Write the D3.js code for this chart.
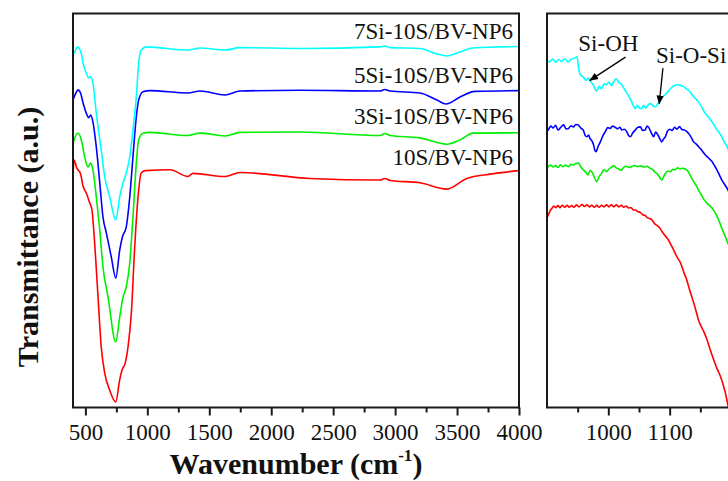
<!DOCTYPE html>
<html><head><meta charset="utf-8">
<script src="https://cdn.jsdelivr.net/npm/d3@7"></script>
<style>
body{margin:0;background:#fff}
svg{display:block}
text{font-family:"Liberation Serif","Times New Roman",serif;fill:#111}
</style>
</head><body>
<svg id="chart" width="728" height="481"></svg>
<script>
// ---------- DATA ----------
const seriesNames = ["10S/BV-NP6", "3Si-10S/BV-NP6", "5Si-10S/BV-NP6", "7Si-10S/BV-NP6"];
const seriesColors = ["#ff0000", "#00ee00", "#0000ff", "#00ffff"];

const leftMajorTicks = [500, 1000, 1500, 2000, 2500, 3000, 3500, 4000];
const leftMinorTicks = [750, 1250, 1750, 2250, 2750, 3250, 3750];
const rightMajorTicks = [1000, 1100];
const rightMinorTicks = [950, 1050, 1150];

// Left panel (full spectrum), [wavenumber, transmittance a.u.]
const redLeft = [[400,57.4],[408,62.7],[430,60.7],[462,59.1],[481,56.1],[507,54.3],[535,51.8],[553,50.0],[575,41.6],[602,27.9],[628,15.2],[656,8.6],[696,4.3],[745,1.3],[777,6.9],[796,9.4],[822,11.2],[844,15.2],[871,23.9],[898,40.6],[925,53.3],[951,59.4],[984,60.0],[1183,60.2],[1328,58.5],[1369,59.3],[1627,58.5],[1748,59.5],[2313,58.0],[2878,57.6],[2918,58.0],[2959,57.5],[3201,56.9],[3417,55.3],[3578,58.0],[3766,59.1],[4000,60.0]];
const greenLeft = [[400,67.0],[440,69.5],[473,67.0],[494,63.5],[521,60.9],[543,61.9],[561,60.2],[588,53.3],[616,44.9],[642,35.5],[683,27.9],[745,16.5],[777,22.8],[804,27.9],[830,30.5],[858,36.5],[884,48.2],[911,61.9],[930,67.8],[965,69.5],[1022,69.7],[1328,68.9],[1425,69.5],[1627,68.8],[1748,69.7],[2232,69.8],[2878,68.9],[2918,69.4],[2959,68.9],[3201,68.3],[3417,66.7],[3524,67.8],[3629,69.5],[4000,69.6]];
const blueLeft = [[400,77.9],[424,79.7],[440,80.5],[461,79.7],[481,77.2],[507,74.6],[527,73.4],[543,74.1],[561,72.3],[588,66.0],[616,56.9],[642,48.2],[669,44.2],[709,38.1],[745,32.7],[777,39.8],[798,43.1],[830,45.7],[858,53.3],[884,63.5],[911,73.6],[930,77.9],[965,80.0],[1022,80.3],[1328,79.7],[1425,80.2],[1627,79.2],[1748,80.2],[2232,80.4],[2878,80.2],[2918,80.6],[2959,80.2],[3201,79.7],[3338,77.9],[3411,76.9],[3524,78.7],[3645,80.1],[4000,80.3]];
const cyanLeft = [[400,89.8],[408,89.8],[435,91.4],[467,89.8],[481,87.3],[507,84.8],[527,83.5],[543,83.8],[561,82.2],[588,74.6],[628,65.2],[656,58.4],[696,53.3],[745,47.5],[777,53.3],[804,56.9],[830,59.4],[858,63.5],[884,70.3],[911,78.7],[930,87.3],[951,90.6],[992,91.4],[1328,90.6],[1425,91.1],[1627,90.6],[1748,91.2],[2232,91.0],[2878,91.4],[2918,91.6],[2959,91.2],[3201,91.0],[3338,89.6],[3419,89.1],[3524,90.1],[3621,91.1],[3847,91.4],[4000,91.5]];

// Right panel (900-1200 cm-1 enlargement)
const redRight = [[900,48.0],[902,48.7],[905,49.8],[908,50.4],[911,51.0],[914,50.6],[918,51.1],[921,50.6],[925,51.2],[929,50.7],[933,51.2],[936,50.7],[940,51.1],[944,50.7],[948,51.3],[952,50.8],[957,51.4],[961,50.9],[965,51.3],[969,50.8],[973,51.2],[977,50.7],[981,51.2],[985,50.7],[989,51.2],[993,50.8],[997,51.3],[1001,50.8],[1005,51.3],[1009,50.8],[1013,51.3],[1017,50.8],[1021,51.2],[1025,50.7],[1029,51.0],[1033,50.5],[1037,50.6],[1041,50.0],[1044,50.0],[1048,49.6],[1052,49.4],[1056,48.8],[1060,48.6],[1064,48.0],[1068,47.8],[1071,47.5],[1075,46.6],[1080,46.0],[1084,45.4],[1088,44.4],[1092,43.6],[1095,43.0],[1098,42.4],[1102,41.2],[1106,40.0],[1109,39.0],[1113,37.8],[1117,36.8],[1120,35.6],[1124,33.8],[1128,32.2],[1132,30.0],[1136,28.0],[1140,26.0],[1144,23.8],[1147,22.1],[1151,20.6],[1156,19.0],[1161,17.0],[1166,14.6],[1172,11.9],[1177,9.8],[1183,7.7],[1187,5.8],[1191,3.5],[1195,0.5],[1200,-2.5]];
const greenRight = [[900,60.6],[902,61.0],[906,61.4],[910,60.9],[914,61.3],[918,60.8],[922,61.5],[926,61.0],[930,61.4],[935,61.0],[939,61.6],[943,61.4],[947,61.8],[951,61.9],[955,61.0],[959,60.2],[963,59.6],[967,58.9],[970,60.0],[973,59.7],[977,58.4],[981,57.2],[985,58.5],[989,59.3],[993,60.2],[997,59.8],[1001,60.4],[1005,60.9],[1009,61.2],[1013,60.7],[1017,60.4],[1021,60.1],[1025,60.8],[1029,61.1],[1034,60.8],[1038,61.0],[1043,61.3],[1048,61.0],[1053,61.2],[1058,60.9],[1063,61.1],[1068,60.6],[1072,60.3],[1076,59.6],[1079,59.3],[1083,58.5],[1087,57.6],[1090,58.4],[1093,59.3],[1097,59.9],[1101,59.7],[1105,60.3],[1109,60.2],[1113,60.7],[1117,60.4],[1120,60.6],[1124,60.5],[1128,60.2],[1132,59.3],[1136,58.0],[1140,57.0],[1144,56.0],[1147,55.1],[1151,54.0],[1155,52.9],[1158,52.3],[1162,51.5],[1166,51.0],[1169,50.5],[1173,49.6],[1177,48.5],[1181,47.0],[1185,45.4],[1190,43.5],[1195,41.6],[1200,39.8]];
const blueRight = [[900,70.0],[902,70.3],[906,71.3],[910,70.8],[914,71.5],[918,70.3],[922,70.9],[927,71.6],[931,70.6],[935,70.7],[939,71.4],[943,71.1],[947,71.7],[951,71.6],[955,70.8],[959,70.3],[962,69.0],[965,68.6],[968,69.0],[970,68.2],[973,67.6],[976,66.5],[978,65.2],[980,64.8],[983,66.0],[987,67.3],[991,68.8],[995,69.9],[999,70.9],[1003,70.7],[1007,71.3],[1011,71.0],[1015,70.6],[1019,71.0],[1022,70.3],[1026,70.5],[1030,69.9],[1033,68.9],[1036,68.6],[1040,69.6],[1044,70.3],[1048,71.0],[1052,71.1],[1056,70.2],[1060,70.3],[1063,71.3],[1066,70.9],[1070,69.6],[1074,68.6],[1077,69.8],[1079,69.5],[1083,68.4],[1087,67.3],[1090,68.0],[1093,68.6],[1096,69.9],[1100,70.5],[1104,70.2],[1108,71.0],[1112,70.5],[1116,71.2],[1120,70.4],[1124,70.3],[1128,69.9],[1132,69.2],[1136,68.2],[1139,67.3],[1143,66.8],[1147,66.1],[1151,65.4],[1155,64.6],[1158,64.0],[1162,63.4],[1166,62.8],[1169,62.3],[1173,61.3],[1177,60.2],[1181,58.9],[1185,57.6],[1190,56.4],[1195,55.1],[1200,53.3]];
const cyanRight = [[900,88.0],[904,87.6],[909,88.3],[914,87.5],[919,88.2],[924,87.7],[929,88.4],[934,87.6],[940,88.3],[946,88.6],[949,88.9],[952,85.5],[955,84.2],[959,83.8],[963,82.9],[967,83.5],[971,82.6],[975,81.8],[978,80.9],[981,80.2],[985,81.4],[989,80.8],[993,82.0],[997,81.8],[1001,82.5],[1005,81.6],[1009,82.6],[1013,83.3],[1017,82.4],[1021,82.0],[1025,81.0],[1029,80.0],[1033,79.0],[1037,77.8],[1041,76.4],[1044,75.7],[1047,76.6],[1050,76.0],[1054,75.7],[1057,76.5],[1061,75.9],[1065,76.7],[1069,77.0],[1073,76.4],[1077,76.2],[1080,76.8],[1084,77.6],[1088,78.6],[1092,79.2],[1096,79.8],[1100,80.6],[1104,81.2],[1108,81.6],[1112,81.8],[1116,81.7],[1120,81.5],[1124,81.2],[1128,80.7],[1132,80.2],[1136,79.4],[1140,78.6],[1144,78.0],[1148,77.2],[1152,76.2],[1156,75.0],[1160,74.2],[1164,73.4],[1168,72.6],[1172,71.7],[1176,70.6],[1180,69.8],[1184,68.8],[1188,67.6],[1192,66.5],[1196,65.3],[1200,64.2]];

const leftSeries = [redLeft, greenLeft, blueLeft, cyanLeft];
const rightSeries = [redRight, greenRight, blueRight, cyanRight];

// Annotations: [label, text wn, text value, arrow tail wn, tail value, arrow tip wn, tip value]
const annotations = [
  ["Si-OH", 1000, 90.4, 1028, 88.8, 970, 82.9],
  ["Si-O-Si", 1135, 87.2, 1089, 86.0, 1083, 77.0]
];

// ---------- LAYOUT ----------
const svg = d3.select("#chart");
const plotTop = 13.5, plotBottom = 407.5;
const y = d3.scaleLinear().domain([0, 100]).range([407, 13]);
const xL = d3.scaleLinear().domain([400, 4000]).range([73, 519]);
const xR = d3.scaleLinear().domain([900, 1200]).range([547, 731]);
const axisColor = "#1a1a1a";

const defs = svg.append("defs");
defs.append("clipPath").attr("id", "clipL").append("rect")
  .attr("x", 73).attr("y", plotTop).attr("width", 446).attr("height", plotBottom - plotTop);
defs.append("clipPath").attr("id", "clipR").append("rect")
  .attr("x", 547).attr("y", plotTop).attr("width", 184).attr("height", plotBottom - plotTop);
defs.append("marker").attr("id", "arrow").attr("viewBox", "0 0 10 10")
  .attr("refX", 9).attr("refY", 5).attr("markerWidth", 9).attr("markerHeight", 9)
  .attr("markerUnits", "userSpaceOnUse").attr("orient", "auto")
  .append("path").attr("d", "M0,1 L10,5 L0,9 Z").attr("fill", "#000");

function drawPanel(x, series, clipId, majors, minors, fullFrame) {
  const g = svg.append("g");
  const line = d3.line().x(d => x(d[0])).y(d => y(d[1])).curve(d3.curveMonotoneX);
  g.append("g").attr("clip-path", `url(#${clipId})`)
    .selectAll("path").data(series).join("path")
    .attr("d", line).attr("fill", "none")
    .attr("stroke", (d, i) => seriesColors[i]).attr("stroke-width", 1.6)
    .attr("stroke-linejoin", "round");

  const axisMaj = d3.axisBottom(x).tickValues(majors).tickSize(8).tickPadding(8)
    .tickFormat(d3.format("d"));
  const ga = g.append("g").attr("transform", `translate(0,${plotBottom})`).call(axisMaj);
  ga.select(".domain").remove();
  ga.selectAll("line").attr("stroke", axisColor).attr("stroke-width", 2);
  ga.selectAll("text").attr("font-size", 23).attr("fill", "#111")
    .style("font-family", '"Liberation Serif","Times New Roman",serif');
  const gm = g.append("g").attr("transform", `translate(0,${plotBottom})`)
    .call(d3.axisBottom(x).tickValues(minors).tickSize(5).tickFormat(""));
  gm.select(".domain").remove();
  gm.selectAll("line").attr("stroke", axisColor).attr("stroke-width", 2);

  const [x0, x1] = x.range();
  g.append("line").attr("x1", x0).attr("x2", x0).attr("y1", plotTop).attr("y2", plotBottom)
    .attr("stroke", axisColor).attr("stroke-width", 2);
  g.append("line").attr("x1", x0 - 1).attr("x2", x1).attr("y1", plotBottom).attr("y2", plotBottom)
    .attr("stroke", axisColor).attr("stroke-width", 2);
  g.append("line").attr("x1", x0 - 1).attr("x2", x1).attr("y1", plotTop).attr("y2", plotTop)
    .attr("stroke", axisColor).attr("stroke-width", 2);
  if (fullFrame) {
    g.append("line").attr("x1", x1).attr("x2", x1).attr("y1", plotTop - 1).attr("y2", plotBottom + 1)
      .attr("stroke", axisColor).attr("stroke-width", 2);
  }
  return g;
}

drawPanel(xL, leftSeries, "clipL", leftMajorTicks, leftMinorTicks, true);
drawPanel(xR, rightSeries, "clipR", rightMajorTicks, rightMinorTicks, true);

// series labels (left panel, right aligned)
const labelBaselines = [164.5, 123.5, 82.5, 38.5];
svg.append("g").selectAll("text").data(seriesNames).join("text")
  .attr("x", 513).attr("y", (d, i) => labelBaselines[i])
  .attr("text-anchor", "end").attr("font-size", 23).text(d => d);

// annotations in the right panel
const gAnn = svg.append("g");
annotations.forEach(a => {
  gAnn.append("text").attr("x", xR(a[1])).attr("y", y(a[2]))
    .attr("text-anchor", "middle").attr("font-size", 23).text(a[0]);
  gAnn.append("line").attr("x1", xR(a[3])).attr("y1", y(a[4]))
    .attr("x2", xR(a[5])).attr("y2", y(a[6]))
    .attr("stroke", "#000").attr("stroke-width", 1.3).attr("marker-end", "url(#arrow)");
});

// axis titles
const xt = svg.append("text").attr("x", 296).attr("y", 474).attr("text-anchor", "middle")
  .attr("font-size", 30).attr("font-weight", "bold");
xt.append("tspan").text("Wavenumber (cm");
xt.append("tspan").attr("font-size", 17).attr("dy", -13).text("-1");
xt.append("tspan").attr("dy", 13).text(")");

svg.append("text").attr("transform", "translate(38,237) rotate(-90)")
  .attr("text-anchor", "middle").attr("font-size", 30).attr("font-weight", "bold")
  .text("Transmittance (a.u.)");
</script>
</body></html>
